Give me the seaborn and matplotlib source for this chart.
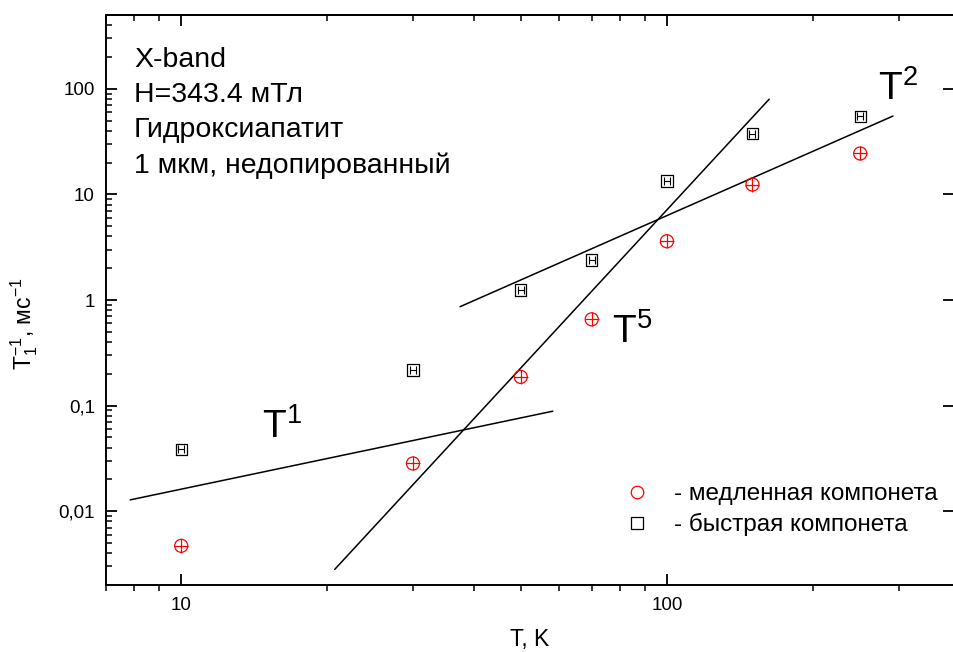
import numpy as np
import pandas as pd
import matplotlib
matplotlib.use('Agg')
import matplotlib.pyplot as plt
import seaborn as sns
from matplotlib.path import Path
from matplotlib.lines import Line2D
from matplotlib.ticker import FixedLocator, FixedFormatter, LogLocator, NullFormatter

# ---------------- data ----------------
temps = [10, 30, 50, 70, 100, 150, 250]
slow_rate = [0.0047, 0.0283, 0.187, 0.656, 3.6, 12.4, 24.4]
fast_rate = [0.0386, 0.218, 1.24, 2.39, 13.4, 37.6, 54.8]

fit_t1_x = [7.85, 58.2]
fit_t1_y = [0.0128, 0.0885]
fit_t5_x = [20.7, 162.4]
fit_t5_y = [0.00281, 79.8]
fit_t2_x = [37.5, 292.0]
fit_t2_y = [0.864, 55.2]

xtick_vals = [10, 100]
xtick_labels = ['10', '100']
ytick_vals = [0.01, 0.1, 1, 10, 100]
ytick_labels = ['0,01', '0,1', '1', '10', '100']

info_lines = ['X-band', 'H=343.4 мТл', 'Гидроксиапатит', '1 мкм, недопированный']
legend_labels = ['- медленная компонета', '- быстрая компонета']
power_labels = [r'$T^1$', r'$T^5$', r'$T^2$']

# ---------------- style ----------------
sns.set_style('ticks')
plt.rcParams['font.family'] = ['Liberation Sans', 'DejaVu Sans']
plt.rcParams['mathtext.fontset'] = 'custom'
plt.rcParams['mathtext.rm'] = 'Liberation Sans'
plt.rcParams['mathtext.it'] = 'Liberation Sans:italic'
plt.rcParams['mathtext.default'] = 'regular'
for key in ['text.color', 'axes.labelcolor', 'xtick.color', 'ytick.color', 'axes.edgecolor']:
    plt.rcParams[key] = 'black'

fig = plt.figure(figsize=(9.54, 6.52), dpi=100)
ax = fig.add_axes([106 / 954, 1 - 585 / 652, (954 - 106) / 954, (585 - 15) / 652])
ax.set_xscale('log')
ax.set_yscale('log')

df_slow = pd.DataFrame({'T': temps, 'rate': slow_rate})
df_fast = pd.DataFrame({'T': temps, 'rate': fast_rate})

# slow component: red open circle with cross
sns.scatterplot(data=df_slow, x='T', y='rate', marker='o', s=9.4 ** 2,
                facecolors='none', edgecolor='red', linewidth=0.9, ax=ax,
                legend=False, zorder=3)
ax.plot(temps, slow_rate, ls='none', marker='+', ms=9.4, mew=0.9, color='red', zorder=3)

# fast component: black open square with H inside
sns.scatterplot(data=df_fast, x='T', y='rate', marker='s', s=8.2 ** 2,
                facecolors='none', edgecolor='black', linewidth=0.9, ax=ax,
                legend=False, zorder=3)
h_path = Path([(-0.6, -1), (-0.6, 1), (0.6, -1), (0.6, 1), (-0.6, 0), (0.6, 0)],
              [Path.MOVETO, Path.LINETO, Path.MOVETO, Path.LINETO, Path.MOVETO, Path.LINETO])
ax.plot(temps, fast_rate, ls='none', marker=h_path, ms=6.2, mew=0.8, color='black', zorder=3)

# power-law guide lines
for fx, fy in [(fit_t1_x, fit_t1_y), (fit_t5_x, fit_t5_y), (fit_t2_x, fit_t2_y)]:
    sns.lineplot(x=fx, y=fy, color='black', lw=1.1, ax=ax, estimator=None, sort=False)

ax.set_xlim(7.0, 390)
ax.set_ylim(0.002, 500)

# ticks
ax.xaxis.set_major_locator(FixedLocator(xtick_vals))
ax.xaxis.set_major_formatter(FixedFormatter(xtick_labels))
ax.xaxis.set_minor_locator(LogLocator(base=10, subs=np.arange(2, 10)))
ax.xaxis.set_minor_formatter(NullFormatter())
ax.yaxis.set_major_locator(FixedLocator(ytick_vals))
ax.yaxis.set_major_formatter(FixedFormatter(ytick_labels))
ax.yaxis.set_minor_locator(LogLocator(base=10, subs=np.arange(2, 10)))
ax.yaxis.set_minor_formatter(NullFormatter())

ax.tick_params(axis='x', which='major', direction='in', length=8, width=1.3,
               bottom=True, top=False, labelsize=13.5, pad=9)
ax.tick_params(axis='x', which='minor', direction='out', length=4, width=1.1,
               bottom=True, top=False)
ax.tick_params(axis='y', which='major', direction='in', length=8, width=1.3,
               left=True, right=True, labelsize=13.5, pad=8)
ax.tick_params(axis='y', which='minor', direction='in', length=4.5, width=1.1,
               left=True, right=False)

# top axis ticks (all pointing inward)
sec = ax.secondary_xaxis('top')
sec.xaxis.set_major_locator(FixedLocator(xtick_vals))
sec.xaxis.set_minor_locator(LogLocator(base=10, subs=np.arange(2, 10)))
sec.xaxis.set_major_formatter(NullFormatter())
sec.xaxis.set_minor_formatter(NullFormatter())
sec.tick_params(axis='x', which='major', direction='in', length=8, width=1.3)
sec.tick_params(axis='x', which='minor', direction='in', length=4, width=1.1)
sec.spines['top'].set_linewidth(1.4)

for side in ['left', 'bottom', 'top']:
    ax.spines[side].set_linewidth(1.4)
ax.spines['right'].set_visible(False)

ax.set_xlabel('T, K', fontsize=16.5)
ax.set_ylabel(r'$T_1^{-1}$, мс$^{-1}$', fontsize=16.5)
ax.xaxis.set_label_coords(0.5, -0.075)
ax.yaxis.set_label_coords(-0.078, 0.458)

# info text block
for i, line in enumerate(info_lines):
    ax.text(0.033, 0.9088 - i * 0.0618, line, transform=ax.transAxes,
            fontsize=20.5, ha='left', va='baseline')

# power-law labels
ax.text(14.7, 0.0494, power_labels[0], fontsize=28, ha='left', va='baseline')
ax.text(77.1, 0.393, power_labels[1], fontsize=28, ha='left', va='baseline')
ax.text(272, 78.7, power_labels[2], fontsize=28, ha='left', va='baseline')

# legend
handles = [Line2D([], [], ls='none', marker='o', ms=9.0, mfc='none', mec='red', mew=0.9),
           Line2D([], [], ls='none', marker='s', ms=8.0, mfc='none', mec='black', mew=0.9)]
ax.legend(handles, legend_labels, loc='center left', bbox_to_anchor=(0.612, 0.132),
          frameon=False, fontsize=17.5, handlelength=1.0, handletextpad=1.0,
          labelspacing=0.33, borderpad=0, borderaxespad=0)

fig.savefig('out.png', dpi=100)
